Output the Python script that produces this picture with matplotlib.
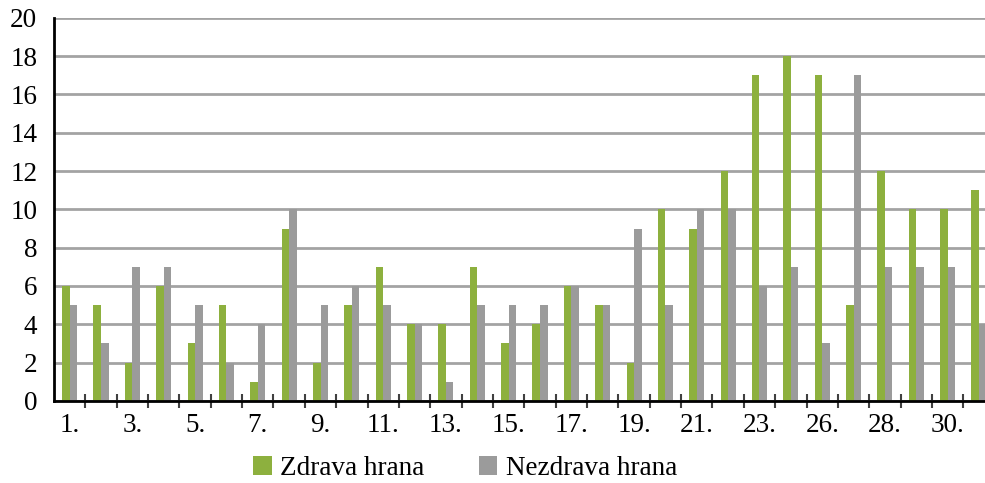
import matplotlib.pyplot as plt
import numpy as np

days = [f"{d}." for d in list(range(1, 25)) + list(range(26, 32))]
zdrava = [6, 5, 2, 6, 3, 5, 1, 9, 2, 5, 7, 4, 4, 7, 3, 4, 6, 5, 2, 10,
          9, 12, 17, 18, 17, 5, 12, 10, 10, 11]
nezdrava = [5, 3, 7, 7, 5, 2, 4, 10, 5, 6, 5, 4, 1, 5, 5, 5, 6, 5, 9, 5,
            10, 10, 6, 7, 3, 17, 7, 7, 7, 4]
series_names = ["Zdrava hrana", "Nezdrava hrana"]

GREEN = "#8db03e"
GRAY = "#9b9b9b"
FONT = "Liberation Serif"
FS = 19.5

plt.rcParams["font.family"] = [FONT, "DejaVu Serif"]

fig = plt.figure(figsize=(9.85, 4.83), dpi=100)
ax = fig.add_axes([0.0548, 0.170, 0.955, 0.793])

x = np.arange(len(days))
w = 0.24
ax.bar(x - w / 2, zdrava, width=w, color=GREEN, label=series_names[0], zorder=3)
ax.bar(x + w / 2, nezdrava, width=w, color=GRAY, label=series_names[1], zorder=3)

ax.set_xlim(-0.5, len(days) - 0.5)
ax.set_ylim(0, 20)
ax.set_yticks(range(0, 21, 2))
ax.yaxis.grid(True, color="#a3a3a3", linewidth=2, zorder=0)
ax.set_axisbelow(True)

for side in ("top", "right"):
    ax.spines[side].set_visible(False)
ax.spines["left"].set_linewidth(2)
ax.spines["bottom"].set_linewidth(2)
ax.spines["left"].set_zorder(4)
ax.spines["bottom"].set_zorder(4)

ax.set_xticks(x[::2], days[::2])
ax.set_xticks(x[:-1] + 0.5, minor=True)
ax.tick_params(axis="x", which="major", length=0, pad=9, labelsize=FS)
ax.tick_params(axis="x", which="minor", length=10, width=1.5, direction="inout",
               color="#404040")
ax.tick_params(axis="y", length=0, pad=12, labelsize=FS)

fig.legend(loc="center", bbox_to_anchor=(0.472, 0.03), ncol=2, frameon=False,
           fontsize=FS, handlelength=0.7, handleheight=0.7, handletextpad=0.3,
           columnspacing=2.0)

fig.savefig("out.png", dpi=100)
